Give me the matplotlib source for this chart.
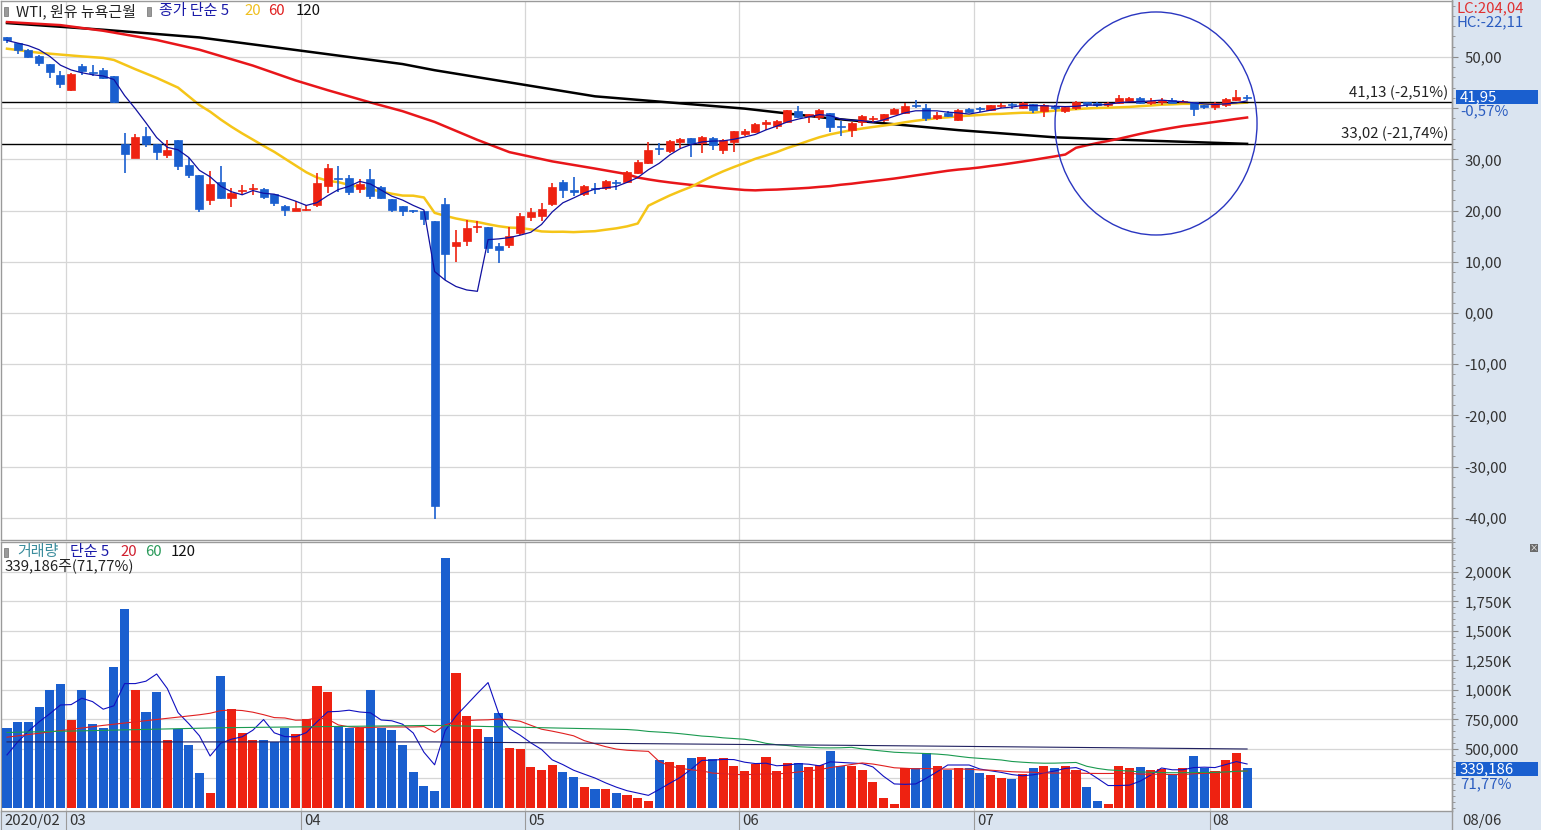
import numpy as np
import pandas as pd
import matplotlib
matplotlib.use("Agg")
import matplotlib.pyplot as plt
from matplotlib.patches import Ellipse, Rectangle
from matplotlib.ticker import FixedLocator, FuncFormatter

plt.rcParams['font.family'] = ['Noto Sans CJK KR', 'DejaVu Sans']

W, H = 1541, 830

# WTI daily candles, 2020-02-21 .. 2020-08-06
opens = [53.8, 52.7, 51.4, 50.2, 48.6, 46.4, 43.6, 48.2, 46.9, 47.4,
         46.2, 32.9, 30.2, 34.5, 33.0, 30.8, 33.8, 28.8, 26.9, 22.1,
         25.6, 22.4, 23.8, 24.2, 24.2, 23.2, 20.9, 20.0, 20.1, 21.0,
         24.7, 26.3, 26.3, 24.2, 26.1, 24.6, 22.2, 20.8, 20.1, 19.9,
         17.9, 21.3, 13.0, 14.0, 16.7, 16.8, 13.0, 13.2, 15.6, 18.8,
         19.0, 21.2, 25.6, 24.0, 23.2, 24.4, 24.4, 25.4, 25.5, 27.4,
         29.3, 32.3, 31.6, 33.3, 34.1, 33.2, 34.2, 31.9, 33.4, 34.9,
         35.4, 36.8, 36.6, 37.2, 39.4, 38.4, 38.3, 39.1, 36.6, 35.8,
         37.2, 37.8, 37.6, 38.9, 39.1, 40.6, 40.0, 38.1, 39.1, 37.7,
         39.9, 40.0, 39.6, 40.4, 40.7, 40.1, 40.8, 39.4, 40.3, 39.5,
         40.0, 41.1, 40.9, 40.7, 41.0, 41.4, 42.0, 41.0, 41.1, 41.5,
         41.2, 41.2, 40.4, 40.2, 40.7, 41.5, 42.1]
highs = [53.9, 52.8, 51.5, 50.3, 48.7, 47.2, 46.9, 48.6, 48.4, 47.8,
         46.2, 35.1, 34.9, 36.4, 33.0, 33.8, 33.8, 30.3, 26.9, 27.7,
         28.6, 24.4, 25.0, 25.1, 24.4, 23.3, 21.0, 21.8, 21.1, 27.3,
         29.1, 28.6, 26.9, 26.1, 28.2, 24.8, 22.3, 20.9, 20.2, 19.9,
         17.9, 22.4, 16.2, 18.2, 17.9, 16.8, 13.7, 16.8, 19.5, 20.5,
         21.5, 25.3, 25.9, 26.6, 24.9, 25.3, 26.0, 26.0, 27.8, 29.8,
         33.3, 33.1, 33.8, 34.2, 34.2, 34.5, 34.3, 34.0, 35.6, 35.9,
         37.0, 37.6, 37.7, 39.7, 40.4, 38.9, 39.8, 39.1, 37.4, 37.2,
         38.6, 38.4, 38.9, 40.1, 41.0, 41.5, 40.8, 39.3, 39.5, 39.9,
         40.1, 40.3, 40.7, 40.9, 40.9, 41.1, 40.8, 40.8, 40.7, 40.4,
         41.3, 41.2, 41.2, 41.1, 42.6, 42.1, 42.2, 41.9, 41.9, 41.9,
         41.5, 41.2, 40.6, 41.1, 42.0, 43.6, 42.6]
lows = [52.7, 50.6, 49.7, 48.3, 45.9, 43.9, 43.3, 46.4, 46.2, 45.7,
        41.0, 27.3, 30.2, 32.5, 29.9, 30.3, 27.9, 26.4, 19.8, 21.1,
        22.3, 20.6, 23.1, 23.0, 22.3, 20.9, 19.0, 19.9, 19.9, 20.7,
        23.4, 23.7, 23.1, 23.5, 22.3, 22.2, 19.8, 19.0, 19.6, 17.2,
        -40.3, 6.5, 10.0, 13.0, 15.6, 11.7, 9.8, 12.6, 15.3, 17.9,
        17.9, 20.9, 22.5, 22.9, 22.8, 23.3, 24.0, 24.1, 25.3, 27.1,
        29.1, 30.8, 31.3, 32.3, 30.5, 31.2, 31.8, 31.0, 31.5, 34.5,
        35.1, 35.8, 35.9, 37.0, 38.0, 37.0, 37.6, 35.3, 34.6, 34.4,
        36.6, 37.0, 37.3, 38.8, 38.9, 40.0, 37.5, 37.7, 38.3, 37.5,
        39.0, 39.2, 39.4, 40.0, 39.9, 39.9, 39.0, 38.3, 39.6, 39.1,
        39.7, 40.2, 40.3, 40.2, 40.8, 41.2, 40.8, 40.6, 40.6, 41.0,
        41.0, 38.5, 39.8, 39.6, 40.2, 41.3, 41.6]
closes = [53.38, 51.43, 49.90, 48.73, 47.09, 44.76, 46.75, 47.18, 46.78, 45.90,
          41.28, 31.13, 34.36, 32.98, 31.50, 31.73, 28.70, 26.95, 20.37, 25.22,
          22.43, 23.36, 24.01, 24.49, 22.60, 21.51, 20.09, 20.48, 20.31, 25.32,
          28.34, 26.08, 23.63, 25.09, 22.76, 22.41, 20.11, 19.87, 19.87, 18.27,
          -37.63, 11.57, 13.78, 16.50, 16.94, 12.78, 12.34, 15.06, 18.84, 19.78,
          20.39, 24.56, 23.99, 23.55, 24.74, 24.14, 25.78, 25.29, 27.56, 29.43,
          31.82, 31.96, 33.49, 33.92, 33.25, 34.35, 32.81, 33.71, 35.49, 35.44,
          36.81, 37.29, 37.41, 39.55, 38.19, 38.94, 39.60, 36.34, 36.26, 37.12,
          38.38, 37.96, 38.84, 39.75, 40.46, 40.37, 38.01, 38.72, 38.49, 39.70,
          39.27, 39.82, 40.65, 40.63, 40.62, 40.90, 39.62, 40.55, 40.10, 40.29,
          41.20, 40.75, 40.59, 40.81, 41.96, 41.90, 41.07, 41.29, 41.60, 41.04,
          41.27, 39.92, 40.27, 41.01, 41.70, 42.19, 41.95]
# volume in thousands
volumes = [678, 729, 729, 856, 1000, 1050, 746, 1000, 712, 678,
           1195, 1686, 1000, 814, 983, 576, 669, 534, 297, 127,
           1119, 839, 636, 576, 576, 559, 678, 627, 754, 1034,
           983, 695, 678, 678, 1000, 678, 661, 534, 305, 186,
           144, 2119, 1144, 780, 669, 602, 805, 508, 500, 347,
           322, 364, 305, 263, 180, 158, 158, 125, 112, 82,
           58, 407, 390, 364, 424, 432, 415, 424, 356, 314,
           373, 432, 314, 381, 381, 347, 364, 483, 356, 356,
           322, 223, 85, 34, 339, 339, 466, 356, 322, 339,
           339, 297, 280, 254, 246, 288, 339, 356, 339, 356,
           322, 178, 62, 34, 356, 339, 347, 322, 331, 280,
           339, 441, 339, 314, 407, 466, 339.186]

month_labels = ["2020/02", "03", "04", "05", "06", "07", "08"]
month_starts = [0, 6, 28, 49, 69, 91, 113]

# moving-average values before enough history is on the chart
ma5_head = [53.2, 52.7, 52.2, 51.4]
ma20_head_idx = [0, 3, 7, 9, 10, 12, 14, 16, 18]
ma20_head_val = [51.6, 50.8, 50.1, 49.8, 49.4, 47.6, 45.9, 44.0, 40.6]
ma60_head_idx = [0, 5, 9, 14, 18, 23, 27, 30, 34, 37, 40, 44, 47, 51, 55, 58]
ma60_head_val = [56.8, 56.2, 55.1, 53.3, 51.4, 48.3, 45.4, 43.5, 41.1, 39.4,
                 37.3, 33.8, 31.4, 29.6, 28.2, 27.1]
ma120_idx = [0, 9, 18, 29, 37, 40, 55, 69, 77, 89, 98, 106, 116]
ma120_val = [56.6, 55.3, 53.8, 50.8, 48.6, 47.4, 42.3, 39.9, 38.0, 35.7, 34.3, 33.7, 33.02]

vma5_head = [450, 560, 650, 730]
vma20_head_idx = [0, 9, 18]
vma20_head_val = [600, 700, 790]
vma60_head_idx = [0, 20, 40, 58]
vma60_head_val = [640, 680, 700, 665]
vma120_idx = [0, 40, 80, 116]
vma120_val = [560, 560, 530, 500]

RED = "#ee2211"
BLUE = "#1a5fcf"
PANEL = "#dae4f0"
FS = 10.8


def px(x, y):
    return x / W, 1 - y / H


def kfmt(v):
    return f"{v:.2f}".replace(".", ",")


n = len(closes)
idx = np.arange(n)
o = np.array(opens)
c = np.array(closes)
hi = np.array(highs)
lo = np.array(lows)
vol = np.array(volumes)
up = c >= o
colors = np.where(up, RED, BLUE)

cs = pd.Series(c)
vs = pd.Series(vol)
ma5 = cs.rolling(5).mean().values
ma20 = cs.rolling(20).mean().values
ma60 = cs.rolling(60).mean().values
vma5 = vs.rolling(5).mean().values
vma20 = vs.rolling(20).mean().values
vma60 = vs.rolling(60).mean().values

fig = plt.figure(figsize=(W / 100, H / 100), dpi=100)
fig.patch.set_facecolor("white")
# right scale area and bottom date strip (behind the axes)
fig.add_artist(Rectangle((1452 / W, 0), 1 - 1452 / W, 1, transform=fig.transFigure,
                         facecolor=PANEL, edgecolor="none", zorder=-10))
fig.add_artist(Rectangle((0, 0), 1, 18 / H, transform=fig.transFigure,
                         facecolor=PANEL, edgecolor="none", zorder=-10))

xmin, xmax = -0.561, 135.17
ax1 = fig.add_axes([1 / W, 1 - 540 / H, 1451 / W, 539 / H])
ax2 = fig.add_axes([1 / W, 1 - 811 / H, 1451 / W, 269 / H])
for ax in (ax1, ax2):
    ax.set_xlim(xmin, xmax)
    ax.set_facecolor("white")
    for s in ax.spines.values():
        s.set_color("#9a9a9a")
        s.set_linewidth(1)
    ax.set_xticks([])
    ax.yaxis.tick_right()
    ax.tick_params(axis="y", which="major", length=4, color="#8a8a8a", pad=5,
                   labelsize=FS, labelcolor="#333333")
    ax.tick_params(axis="y", which="minor", length=2, color="#8a8a8a")
    for m in month_starts[1:]:
        ax.axvline(m - 0.5, color="#d6d6d6", lw=0.9, zorder=0)

# ---- price panel
ax1.set_ylim(-44.32, 60.91)
ax1.yaxis.set_major_locator(FixedLocator(np.arange(-40, 51, 10)))
ax1.yaxis.set_minor_locator(FixedLocator(np.arange(-44, 61, 2)))
ax1.yaxis.set_major_formatter(FuncFormatter(lambda v, p: "" if abs(v - 40) < 1e-6 else kfmt(v)))
for g in np.arange(-40, 51, 10):
    ax1.axhline(g, color="#d6d6d6", lw=0.9, zorder=0)

ax1.plot(ma120_idx, ma120_val, color="black", lw=1.8, zorder=2)
ax1.plot(ma60_head_idx + list(idx[59:]), ma60_head_val + list(ma60[59:]), color="#e8161a", lw=1.8, zorder=2)
ax1.plot(ma20_head_idx + list(idx[19:]), ma20_head_val + list(ma20[19:]), color="#f5c518", lw=1.8, zorder=2)

for lvl, txt in [(41.13, "41,13 (-2,51%)"), (33.02, "33,02 (-21,74%)")]:
    ax1.axhline(lvl, color="black", lw=1, zorder=2)
    ax1.text(1448 / 10.69 - 0.6, lvl + 0.5, txt, ha="right", va="bottom", fontsize=FS, color="#222222")

ax1.vlines(idx, lo, hi, colors=colors, lw=1.2, zorder=3)
body = np.maximum(np.abs(c - o), 0.25)
ax1.bar(idx, body, bottom=np.minimum(o, c), width=0.75, color=colors, edgecolor=colors, lw=0.5, zorder=4)

ax1.plot(list(range(4)) + list(idx[4:]), ma5_head + list(ma5[4:]), color="#1010a0", lw=0.9, zorder=5)

ax1.add_patch(Ellipse(((1156 - 7) / 10.69, (313 - 123.5) / 5.122), 202 / 10.69, 223 / 5.122,
                      fill=False, edgecolor="#2a36c0", lw=1, zorder=6))

# ---- volume panel
ax2.set_ylim(-25.4, 2254)
ax2.bar(idx, vol, width=0.85, color=colors, zorder=3)
ax2.plot(list(range(4)) + list(idx[4:]), vma5_head + list(vma5[4:]), color="#1010c0", lw=0.8, zorder=5)
ax2.plot(vma20_head_idx + list(idx[19:]), vma20_head_val + list(vma20[19:]), color="#e02020", lw=0.8, zorder=5)
ax2.plot(vma60_head_idx + list(idx[59:]), vma60_head_val + list(vma60[59:]), color="#1a9a50", lw=0.8, zorder=5)
ax2.plot(vma120_idx, vma120_val, color="#202060", lw=0.8, zorder=5)
ax2.yaxis.set_major_locator(FixedLocator([500, 750, 1000, 1250, 1500, 1750, 2000]))
ax2.yaxis.set_minor_locator(FixedLocator(np.arange(0, 2251, 50)))
ax2.yaxis.set_major_formatter(FuncFormatter(
    lambda v, p: f"{int(v):,}K" if v >= 1000 else f"{int(v * 1000):,}"))
for g in [250, 500, 750, 1000, 1250, 1500, 1750, 2000]:
    ax2.axhline(g, color="#d6d6d6", lw=0.9, zorder=0)

# ---- legends and labels
fig.add_artist(Rectangle(px(4, 16), 4 / W, 9 / H, transform=fig.transFigure, facecolor="#9a9a9a", edgecolor="#707070", lw=0.5))
fig.add_artist(Rectangle(px(147, 16), 4 / W, 9 / H, transform=fig.transFigure, facecolor="#9a9a9a", edgecolor="#707070", lw=0.5))
for x, t, col in [(16, "WTI, 원유 뉴욕근월", "#222222"), (159, "종가 단순 5", "#1a1aa8"),
                  (244, "20", "#f0c020"), (268, "60", "#e02020"), (296, "120", "#111111")]:
    fig.text(*px(x, 11), t, color=col, fontsize=FS, va="center", ha="left")

fig.add_artist(Rectangle(px(4, 557), 4 / W, 9 / H, transform=fig.transFigure, facecolor="#9a9a9a", edgecolor="#707070", lw=0.5))
for x, t, col in [(17, "거래량", "#3a8c9c"), (70, "단순 5", "#1a1aa8"),
                  (120, "20", "#d02030"), (145, "60", "#2a9a5a"), (171, "120", "#111111")]:
    fig.text(*px(x, 552), t, color=col, fontsize=FS, va="center", ha="left")
fig.text(*px(5, 567), "339,186주(71,77%)", color="#222222", fontsize=FS, va="center", ha="left")

fig.text(*px(1456, 8), "LC:204,04", color="#e03030", fontsize=FS, va="center")
fig.text(*px(1456, 22), "HC:-22,11", color="#2a5cc0", fontsize=FS, va="center")

fig.add_artist(Rectangle(px(1456, 104), 82 / W, 14 / H, transform=fig.transFigure, facecolor="#1a5fcf", edgecolor="none"))
fig.text(*px(1460, 97), "41,95", color="white", fontsize=FS, va="center")
fig.text(*px(1460, 111), "-0,57%", color="#2a5cc0", fontsize=FS, va="center")

fig.add_artist(Rectangle(px(1456, 776), 82 / W, 14 / H, transform=fig.transFigure, facecolor="#1a5fcf", edgecolor="none"))
fig.text(*px(1460, 769), "339,186", color="white", fontsize=FS, va="center")
fig.text(*px(1460, 784), "71,77%", color="#2a5cc0", fontsize=FS, va="center")

# small close icon of the volume pane
fig.add_artist(Rectangle(px(1530, 552), 8 / W, 8 / H, transform=fig.transFigure, facecolor="#6a6a6a", edgecolor="none"))
fig.text(*px(1534, 548), "×", color="white", fontsize=6, va="center", ha="center")

# date strip
for lab, m in zip(month_labels, month_starts):
    xp = 7 + 10.69 * (m - 0.5) if m > 0 else 1
    fig.add_artist(plt.Line2D([xp / W, xp / W], [0, 18 / H], color="#9a9a9a", lw=0.8))
    fig.text(*px(xp + 3, 821), lab, color="#333333", fontsize=FS, va="center")
fig.add_artist(plt.Line2D([1452 / W, 1452 / W], [0, 1], color="#9a9a9a", lw=1))
fig.text(*px(1462, 821), "08/06", color="#333333", fontsize=FS, va="center")

fig.savefig("out.png", dpi=100)
